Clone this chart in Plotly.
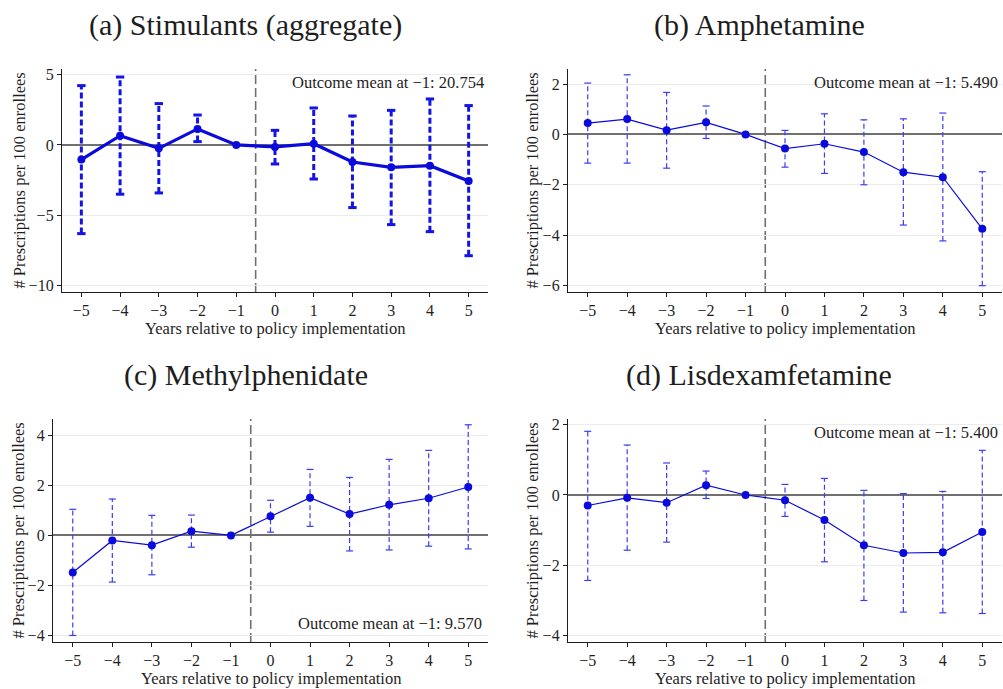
import plotly.graph_objects as go

years = [-5, -4, -3, -2, -1, 0, 1, 2, 3, 4, 5]

# (a) Stimulants (aggregate)
a_est = [-1.04, 0.66, -0.24, 1.14, 0.0, -0.14, 0.09, -1.21, -1.59, -1.47, -2.56]
a_hi = [4.22, 4.83, 2.94, 2.13, 0.0, 1.04, 2.63, 2.06, 2.46, 3.27, 2.80]
a_lo = [-6.30, -3.50, -3.41, 0.24, 0.0, -1.35, -2.42, -4.45, -5.66, -6.16, -7.87]

# (b) Amphetamine
b_est = [0.45, 0.61, 0.17, 0.48, 0.0, -0.56, -0.37, -0.70, -1.50, -1.70, -3.75]
b_hi = [2.04, 2.37, 1.67, 1.13, 0.0, 0.16, 0.82, 0.58, 0.62, 0.85, -1.48]
b_lo = [-1.14, -1.14, -1.34, -0.16, 0.0, -1.30, -1.55, -2.00, -3.60, -4.23, -6.01]

# (c) Methylphenidate
c_est = [-1.48, -0.20, -0.39, 0.17, 0.0, 0.76, 1.50, 0.85, 1.22, 1.48, 1.93]
c_hi = [1.04, 1.45, 0.80, 0.81, 0.0, 1.40, 2.63, 2.31, 3.03, 3.39, 4.41]
c_lo = [-3.99, -1.86, -1.57, -0.47, 0.0, 0.13, 0.36, -0.62, -0.58, -0.43, -0.54]

# (d) Lisdexamfetamine
d_est = [-0.30, -0.08, -0.22, 0.28, 0.0, -0.15, -0.71, -1.43, -1.65, -1.63, -1.05]
d_hi = [1.81, 1.42, 0.91, 0.68, 0.0, 0.30, 0.47, 0.13, 0.04, 0.10, 1.27]
d_lo = [-2.43, -1.57, -1.34, -0.10, 0.0, -0.61, -1.90, -3.00, -3.33, -3.35, -3.37]

titles = ["(a) Stimulants (aggregate)", "(b) Amphetamine", "(c) Methylphenidate", "(d) Lisdexamfetamine"]
means = ["Outcome mean at \u22121: 20.754", "Outcome mean at \u22121: 5.490",
         "Outcome mean at \u22121: 9.570", "Outcome mean at \u22121: 5.400"]
x_title = "Years relative to policy implementation"
y_title = "# Prescriptions per 100 enrollees"
yticks = [[-10, -5, 0, 5], [-6, -4, -2, 0, 2], [-4, -2, 0, 2, 4], [-4, -2, 0, 2]]
yranges = [[-10.45, 5.4], [-6.26, 2.6], [-4.25, 4.64], [-4.18, 2.16]]

panels = [(a_est, a_lo, a_hi), (b_est, b_lo, b_hi), (c_est, c_lo, c_hi), (d_est, d_lo, d_hi)]

W, H = 1003, 689
# plot areas in pixels: (x0, x1, y_top, y_bottom)
boxes = [(62, 488, 69, 292), (568, 1002, 69, 292), (53, 488, 419, 642), (568, 1002, 419, 642)]
title_pos = [(245, 25), (759, 25), (246, 375), (759, 375)]
ytitle_x = [19, 532, 18, 532]

FONT = "Liberation Serif"
BLUE = "#0a0adc"
BAR_A = "#1414e6"
BAR = "#3c3cf5"
GRAY = "#707070"
INK = "#1e1e1e"


def px(x):
    return x / W


def py(y):
    return 1 - y / H


fig = go.Figure()
for i, ((est, lo, hi), box) in enumerate(zip(panels, boxes)):
    n = "" if i == 0 else str(i + 1)
    xa, ya = "x" + n, "y" + n
    thick = (i == 0)
    bc = BAR_A if thick else BAR
    # error bar stems
    ex, ey = [], []
    for x, l, h in zip(years, lo, hi):
        if x == -1:
            continue
        ex += [x, x, None]
        ey += [l, h, None]
    fig.add_trace(go.Scatter(x=ex, y=ey, mode="lines", xaxis=xa, yaxis=ya,
                             line=dict(color=bc, width=3 if thick else 1.2,
                                       dash="6px,3px" if thick else "5px,3px"),
                             hoverinfo="skip", showlegend=False))
    # caps
    cx = [x for x in years if x != -1] * 2
    cy = [h for x, h in zip(years, hi) if x != -1] + [l for x, l in zip(years, lo) if x != -1]
    fig.add_trace(go.Scatter(x=cx, y=cy, mode="markers", xaxis=xa, yaxis=ya,
                             marker=dict(symbol="line-ew", size=6 if thick else 5,
                                         line=dict(color=bc, width=3 if thick else 1.2)),
                             hoverinfo="skip", showlegend=False))
    # estimates
    fig.add_trace(go.Scatter(x=years, y=est, mode="lines+markers", xaxis=xa, yaxis=ya,
                             line=dict(color=BLUE, width=3.2 if thick else 1.2),
                             marker=dict(color=BLUE, size=8),
                             showlegend=False))

    x0, x1, yt, yb = box
    axis_common = dict(showline=True, linecolor=INK, linewidth=1.3, ticks="outside",
                       ticklen=4, tickcolor=INK, tickfont=dict(family=FONT, size=16, color=INK),
                       automargin=False)
    fig.update_layout(**{
        ("xaxis" + n): dict(domain=[px(x0), px(x1)], anchor=ya, range=[-5.5, 5.5], tickvals=years,
                             showgrid=False, zeroline=False, **axis_common),
        ("yaxis" + n): dict(domain=[py(yb), py(yt)], anchor=xa, range=yranges[i], tickvals=yticks[i],
                             showgrid=True, gridcolor="#ececec", gridwidth=1.3,
                             zeroline=True, zerolinecolor=GRAY, zerolinewidth=1.5, **axis_common),
    })
    fig.add_shape(type="line", xref=xa, yref=ya + " domain", x0=-0.5, x1=-0.5, y0=0, y1=1,
                  line=dict(color=GRAY, width=1.6, dash="9px,4px"), layer="below")
    # panel title
    tx, ty = title_pos[i]
    fig.add_annotation(text=titles[i], xref="paper", yref="paper", x=px(tx), y=py(ty),
                       xanchor="center", yanchor="middle", showarrow=False,
                       font=dict(family=FONT, size=30, color=INK))
    # axis titles
    fig.add_annotation(text=x_title, xref="paper", yref="paper", x=px((x0 + x1) / 2), y=py(yb + 36),
                       xanchor="center", yanchor="middle", showarrow=False,
                       font=dict(family=FONT, size=16.5, color=INK))
    fig.add_annotation(text=y_title, xref="paper", yref="paper", x=px(ytitle_x[i]), y=py((yt + yb) / 2),
                       xanchor="center", yanchor="middle", showarrow=False, textangle=-90,
                       font=dict(family=FONT, size=16.5, color=INK))
    # outcome mean
    if i == 2:
        fig.add_annotation(text=means[i], xref=xa + " domain", yref=ya + " domain", x=0.99, y=0.03,
                           xanchor="right", yanchor="bottom", showarrow=False,
                           font=dict(family=FONT, size=16.5, color=INK))
    else:
        fig.add_annotation(text=means[i], xref=xa + " domain", yref=ya + " domain", x=0.995, y=0.99,
                           xanchor="right", yanchor="top", showarrow=False,
                           font=dict(family=FONT, size=16.5, color=INK))

fig.update_layout(width=W, height=H, margin=dict(l=0, r=0, t=0, b=0),
                  paper_bgcolor="white", plot_bgcolor="white", template="none",
                  font=dict(family=FONT))
fig.write_html("out.html")
